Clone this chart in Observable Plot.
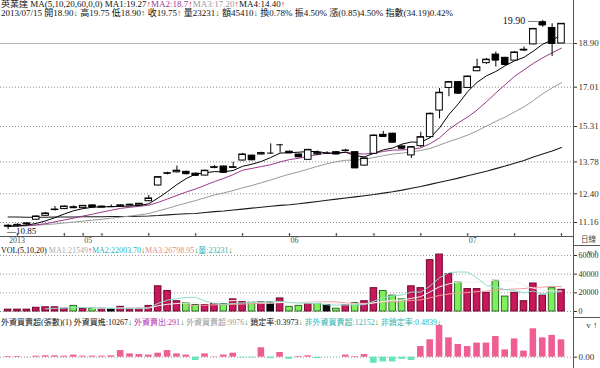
<!DOCTYPE html>
<html><head><meta charset="utf-8">
<script src="https://cdn.jsdelivr.net/npm/d3@7"></script>
<script src="https://cdn.jsdelivr.net/npm/@observablehq/plot@0.6"></script>
<style>
body{margin:0;background:#fff;}
#wrap{position:relative;width:600px;height:368px;overflow:hidden;font-family:"Liberation Serif","Noto Sans CJK TC",serif;font-size:9px;color:#111;}
.hdr{position:absolute;left:1px;white-space:nowrap;line-height:9px;font-size:9px;}
.plot{position:absolute;left:0;}
.ln{position:absolute;background:#555;}
</style></head><body><div id="wrap"></div>
<script>
// ---------- data ----------
const year = "2013";
const dates = ["04/19","04/22","04/23","04/24","04/25","04/26","04/29","04/30","05/02","05/03","05/06","05/07","05/08","05/09","05/10","05/13","05/14","05/15","05/16","05/17","05/20","05/21","05/22","05/23","05/24","05/27","05/28","05/29","05/30","05/31","06/03","06/04","06/05","06/06","06/07","06/10","06/11","06/13","06/14","06/17","06/18","06/19","06/20","06/21","06/24","06/25","06/26","06/27","06/28","07/01","07/02","07/03","07/04","07/05","07/08","07/09","07/10","07/11","07/12","07/15"];
const open = [11.02,11.00,11.08,11.28,11.45,11.70,11.74,11.82,11.78,11.90,11.80,11.85,11.84,11.90,11.90,12.08,12.76,13.28,13.33,13.35,13.27,13.19,13.53,13.58,13.53,13.84,14.05,14.10,14.16,14.52,14.22,14.10,13.87,14.10,14.16,14.20,14.25,14.20,13.62,14.13,14.95,15.00,14.45,14.06,14.46,14.85,16.00,16.98,17.23,16.98,17.70,18.05,18.42,18.28,18.16,18.60,18.86,19.82,19.57,18.90];
const high = [11.08,11.10,11.15,11.45,11.60,11.85,11.88,11.88,11.90,11.92,11.87,11.92,11.93,11.95,11.98,12.33,13.15,13.33,13.60,13.38,13.30,13.42,13.62,13.60,13.77,14.15,14.08,14.20,14.56,14.54,14.25,14.12,14.32,14.25,14.22,14.22,14.33,14.22,13.96,14.95,15.10,15.02,14.48,14.45,15.06,15.90,16.95,17.25,17.25,17.50,18.22,18.25,18.53,18.30,18.55,18.75,19.55,19.90,19.75,19.75];
const low = [10.85,10.95,11.02,11.26,11.43,11.66,11.72,11.76,11.76,11.80,11.78,11.82,11.82,11.88,11.88,12.06,12.74,13.22,13.30,13.22,13.16,13.17,13.48,13.30,13.50,13.82,13.85,14.08,14.10,14.16,14.14,13.96,13.85,14.05,14.10,14.10,14.22,13.50,13.60,14.10,14.85,14.60,14.30,13.93,14.40,14.80,15.64,16.60,16.70,16.95,17.68,18.00,17.88,17.97,18.14,18.55,18.84,19.60,18.34,18.90];
const close = [11.00,11.06,11.12,11.42,11.55,11.72,11.85,11.80,11.88,11.83,11.85,11.85,11.90,11.93,11.97,12.20,13.12,13.29,13.40,13.27,13.20,13.40,13.55,13.33,13.55,14.10,13.87,14.16,14.16,14.52,14.17,14.00,14.30,14.16,14.16,14.12,14.27,13.52,13.93,14.92,14.88,14.63,14.37,14.42,14.85,15.86,16.77,17.23,16.75,17.47,17.87,18.20,18.18,17.99,18.51,18.63,19.53,19.70,18.90,19.75];
const ma5 = [10.99,11.02,11.05,11.12,11.23,11.37,11.53,11.67,11.76,11.82,11.84,11.84,11.86,11.87,11.90,11.97,12.22,12.50,12.80,13.06,13.26,13.31,13.36,13.35,13.41,13.59,13.68,13.80,13.97,14.16,14.18,14.20,14.23,14.23,14.16,14.15,14.20,14.05,14.00,14.15,14.30,14.38,14.55,14.64,14.63,14.83,15.25,15.83,16.29,16.82,17.22,17.50,17.69,17.94,18.15,18.30,18.57,18.87,19.05,19.27];
const ma10 = [11.00,11.01,11.02,11.06,11.11,11.19,11.27,11.35,11.44,11.52,11.61,11.69,11.77,11.82,11.86,11.91,12.03,12.18,12.33,12.48,12.61,12.77,12.93,13.07,13.23,13.42,13.50,13.58,13.66,13.78,13.88,13.94,14.02,14.10,14.16,14.16,14.20,14.14,14.12,14.16,14.23,14.29,14.30,14.32,14.39,14.57,14.82,15.19,15.47,15.72,16.02,16.38,16.76,17.12,17.48,17.76,18.04,18.28,18.50,18.70];
const ma20 = [11.00,11.01,11.02,11.04,11.07,11.10,11.14,11.18,11.22,11.26,11.30,11.35,11.39,11.44,11.49,11.55,11.66,11.77,11.89,12.00,12.11,12.23,12.35,12.44,12.54,12.66,12.76,12.88,13.00,13.13,13.25,13.35,13.47,13.59,13.70,13.79,13.85,13.86,13.89,13.97,14.05,14.12,14.16,14.21,14.28,14.36,14.51,14.66,14.79,14.94,15.12,15.33,15.53,15.72,15.94,16.16,16.43,16.73,16.98,17.20];
const ma60 = [11.40,11.40,11.39,11.39,11.39,11.40,11.40,11.40,11.41,11.41,11.41,11.42,11.42,11.42,11.43,11.44,11.46,11.49,11.52,11.54,11.55,11.59,11.63,11.66,11.70,11.74,11.78,11.82,11.86,11.90,11.93,11.97,12.02,12.07,12.12,12.17,12.22,12.27,12.32,12.37,12.43,12.49,12.56,12.64,12.72,12.81,12.90,12.99,13.08,13.18,13.28,13.38,13.49,13.60,13.72,13.84,13.99,14.12,14.25,14.40];
const volume = [2000,2000,2000,4000,4500,4500,3000,6000,3000,3000,3000,2500,5000,3000,3000,6000,27000,22000,11000,9000,7000,7000,8000,8000,13000,10000,10000,10000,10000,14000,5000,6000,9000,9000,7000,3000,7000,9000,11000,25000,22000,17000,13000,27000,25000,55000,61000,40000,31000,24000,24000,20000,33000,16000,20000,11000,30000,17000,25000,23231];
const volDir = [1,1,1,1,1,1,1,-1,1,-1,1,0,1,1,1,1,1,1,1,-1,-1,1,1,-1,1,1,-1,1,0,1,-1,-1,1,-1,0,-1,1,-1,1,1,-1,-1,-1,1,1,1,1,1,-1,1,1,1,-1,-1,1,1,1,1,-1,1];
const foreign = [400,400,100,600,800,800,600,1200,600,600,600,800,3800,1900,1500,1200,2300,3800,1900,1200,-1900,1900,200,1200,2300,-400,-400,5400,-800,2700,-1200,400,800,-800,-100,-100,1200,400,1500,-3500,-2700,-2700,-1200,-1900,6100,10000,18200,11100,7300,6100,8100,8100,11900,4200,10500,3500,16300,11100,12500,9976];
const priceTicks = [11.16,12.40,13.78,15.31,17.01,18.90];
const volTicks = [0,20000,40000,60000];
const foreignTicks = [0];

// ---------- build ----------
const wrap = document.getElementById("wrap");
const n = dates.length;
const candles = d3.range(n).map(i => ({i, o: open[i], h: high[i], l: low[i], c: close[i]}));
const maRows = (arr) => arr.map((v, i) => ({i, v}));
const vols = d3.range(n).map(i => ({i, v: volume[i], d: volDir[i]}));
const fors = d3.range(n).map(i => ({i, v: foreign[i]}));
const half = 0.35;
const xOpt = {domain: [-0.81, 60.28], axis: null};
const baseStyle = "font-family:'Liberation Serif','Noto Sans CJK TC',serif;font-size:9px;color:#333;background:transparent;overflow:visible;";

// date ticks: Mondays + month starts
const dObj = dates.map(d => new Date(`${year}/${d}`));
const monthStart = d3.range(n).filter(i => i === 0 || dObj[i].getMonth() !== dObj[i-1].getMonth());
const tickIdx = d3.range(n).filter(i => i > 0 && (dObj[i].getDay() === 1 || monthStart.includes(i)));
const monthLabels = monthStart.map(i => ({i, t: i === 0 ? year : dates[i].slice(0, 2)}));

const hiI = d3.maxIndex(high), loI = d3.minIndex(low);

const pricePlot = Plot.plot({
  width: 600, height: 246, marginTop: 10, marginBottom: 10, marginLeft: 0, marginRight: 27,
  style: baseStyle,
  x: xOpt,
  y: {domain: [10.555, 20.326], axis: null},
  marks: [
    Plot.ruleY(priceTicks.slice(0, -1), {stroke: "#8a8a8a", strokeDasharray: "1,2"}),
    Plot.ruleY(priceTicks.slice(-1), {stroke: "#b5b5b5"}),
    Plot.axisY({anchor: "right", ticks: priceTicks, tickFormat: d => d.toFixed(2), tickSize: 3, tickPadding: 2, fill: "#333"}),
    Plot.lineY(maRows(ma60), {x: "i", y: "v", stroke: "#1a1a1a", strokeWidth: 1.1}),
    Plot.lineY(maRows(ma20), {x: "i", y: "v", stroke: "#9a9a9a", strokeWidth: 1}),
    Plot.lineY(maRows(ma10), {x: "i", y: "v", stroke: "#9a3a8a", strokeWidth: 1}),
    Plot.lineY(maRows(ma5), {x: "i", y: "v", stroke: "#000", strokeWidth: 1}),
    Plot.ruleX(candles, {x: "i", y1: "l", y2: "h", stroke: "#000", strokeWidth: 1}),
    Plot.rect(candles, {x1: d => d.i - half, x2: d => d.i + half, y1: "o", y2: "c",
      fill: d => d.c > d.o ? "#fff" : "#000", stroke: "#000", strokeWidth: 1}),
    Plot.ruleY(candles, {y: "c", x1: d => d.i - half, x2: d => d.i + half, stroke: "#000"}),
    Plot.text([{i: hiI, v: high[hiI]}], {x: "i", y: "v", text: d => d.v.toFixed(2) + " —", textAnchor: "end", dx: -5, dy: 0, fill: "#111", fontSize: 10}),
    Plot.text([{i: loI, v: low[loI]}], {x: "i", y: "v", text: d => "—" + d.v.toFixed(2), textAnchor: "start", dx: -1, dy: 1, fill: "#111", fontSize: 9}),
    Plot.ruleY([0], {y: () => 10.555, stroke: "#555"}),
    Plot.vector(tickIdx, {x: d => d, frameAnchor: "bottom", length: 3, rotate: 0, anchor: "start", stroke: "#555", strokeWidth: 1}),
    Plot.text(monthLabels, {x: "i", frameAnchor: "bottom", text: "t", textAnchor: "start", dx: 1, dy: 6, fill: "#555", fontSize: 8})
  ]
});

const volPlot = Plot.plot({
  width: 600, height: 72, marginTop: 0, marginBottom: 0, marginLeft: 0, marginRight: 27,
  style: baseStyle,
  x: xOpt,
  y: {domain: [-7500, 69643], axis: null},
  marks: [
    Plot.ruleY(volTicks, {stroke: "#9a9a9a", strokeDasharray: "1,2"}),
    Plot.axisY({anchor: "right", ticks: volTicks, tickFormat: d => String(d), tickSize: 3, tickPadding: 2, fill: "#333", fontSize: 8}),
    Plot.rect(vols, {x1: d => d.i - half, x2: d => d.i + half, y1: 0, y2: "v",
      fill: d => d.d > 0 ? "#c8175a" : d.d < 0 ? "#7ef05a" : "#0a0a0a",
      stroke: d => d.d > 0 ? "#6e0a2e" : d.d < 0 ? "#2f6a2a" : "#000", strokeWidth: 1}),
    Plot.lineY(vols, Plot.windowY({k: 20, anchor: "end", strict: true}, {x: "i", y: "v", stroke: "#f2a0a0", strokeWidth: 1})),
    Plot.lineY(vols, Plot.windowY({k: 10, anchor: "end", strict: true}, {x: "i", y: "v", stroke: "#f2f2f2", strokeWidth: 1})),
    Plot.lineY(vols, Plot.windowY({k: 5, anchor: "end", strict: true}, {x: "i", y: "v", stroke: "#8fdccb", strokeWidth: 1}))
  ]
});

const forPlot = Plot.plot({
  width: 600, height: 50, marginTop: 0, marginBottom: 0, marginLeft: 0, marginRight: 27,
  style: baseStyle,
  x: xOpt,
  y: {domain: [-6487, 22217], axis: null},
  marks: [
    Plot.ruleY(foreignTicks, {stroke: "#9a9a9a", strokeDasharray: "1,2"}),
    Plot.axisY({anchor: "right", ticks: foreignTicks, tickFormat: d => d.toFixed(2), tickSize: 3, tickPadding: 2, fill: "#333"}),
    Plot.rect(fors, {x1: d => d.i - half, x2: d => d.i + half, y1: 0, y2: "v",
      fill: d => d.v >= 0 ? "#ee5e92" : "#62e4bd"})
  ]
});

function place(el, top) { el.classList.add("plot"); el.style.top = top + "px"; wrap.appendChild(el); }
place(pricePlot, 0);
place(volPlot, 246);
place(forPlot, 318);

// frame lines
function line(l, t, w, h) { const d = document.createElement("div"); d.className = "ln"; Object.assign(d.style, {left: l + "px", top: t + "px", width: w + "px", height: h + "px"}); wrap.appendChild(d); }
line(573, 0, 1, 368);
line(573, 245, 27, 1);
line(573, 317, 27, 1);

// headers
function hdr(top, html, size) { const d = document.createElement("div"); d.className = "hdr"; d.style.top = top + "px"; if (size) { d.style.fontSize = size + "px"; d.style.lineHeight = size + "px"; } d.innerHTML = html; wrap.appendChild(d); return d; }
const up = '<span style="color:#e0202a">↑</span>', dn = '<span style="color:#118811">↓</span>';
hdr(0, `英業達 MA(5,10,20,60,0,0) MA1:${ma5[n-1].toFixed(2)}${up}<span style="color:#9a3a8e">MA2:${ma10[n-1].toFixed(1)}</span>${up}<span style="color:#9a9a9a">MA3:${ma20[n-1].toFixed(2)}</span>${up}MA4:${ma60[n-1].toFixed(2)}${up}`);
hdr(9, `${year}/${dates[n-1]} 開${open[n-1].toFixed(2)}${dn} 高19.75 低${low[n-1].toFixed(2)}${up} 收${close[n-1].toFixed(2)}${up} 量${volume[n-1]}${dn} 額45410${dn} 換0.78% 振4.50% 漲(0.85)4.50% 指數(34.19)0.42%`);
hdr(247, `VOL(5,10,20) <span style="color:#aaa">MA1:21549</span>${up}<span style="color:#2fb3b3">MA2:22003.70</span>${dn}<span style="color:#e08c8c">MA3:26798.95</span>${dn}<span style="color:#2fb3b3">量:${volume[n-1]}</span>${dn}`, 8);
hdr(319, `外資買賣超(張數)(1) 外資買進:10267${dn} <span style="color:#b030b0">外資賣出:291</span>${dn} <span style="color:#999">外資買賣超:9976</span>${dn} 鎖定率:0.3973${dn} <span style="color:#2fb3b3">非外資買賣超:12152</span>${dn} <span style="color:#2fb3b3">非鎖定率:0.4839</span>${dn}`, 8);
const dl = hdr(236, "日線", 7.5); dl.style.left = "581px"; dl.style.color = "#444";
</script></body></html>
